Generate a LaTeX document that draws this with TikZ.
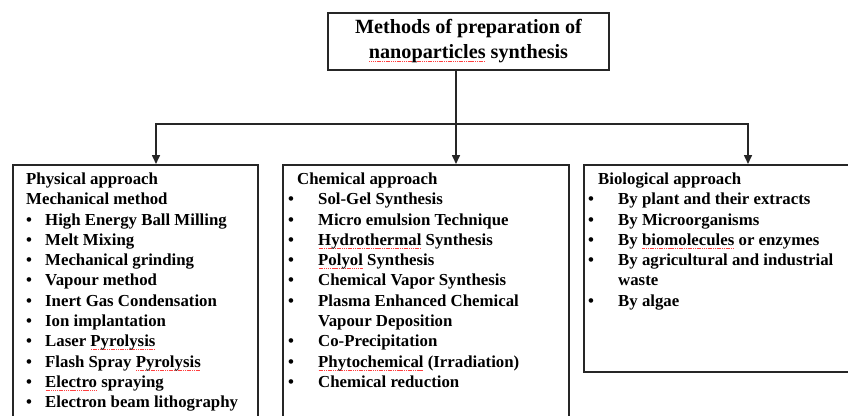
\documentclass[tikz,border=0pt]{standalone}
\usepackage{fontspec}
\setmainfont{Liberation Serif}
\usetikzlibrary{arrows.meta,positioning,calc}

\newcommand\bul[1][30pt]{\makebox[#1][l]{\textbullet}}
\newsavebox\spbox
\newcommand\spchk[1]{\sbox\spbox{#1}\rlap{\textcolor{red!75}{\hbox to \wd\spbox{\xleaders\hbox{\kern0.3pt\rule[-3pt]{1.2pt}{0.6pt}\kern0.3pt}\hfill}}}\usebox\spbox}

\begin{document}
\begin{tikzpicture}
[x=1pt,y=-1pt,
frame/.style={shape=rectangle,draw=black!85,line width=1.6pt,inner sep=0pt},
heading/.style={font=\fontsize{20.2}{25}\selectfont\bfseries,align=center},
list/.style={font=\fontsize{16.8}{20.3}\selectfont\bfseries,align=left,inner sep=0pt,anchor=north west},
myedge/.style={line width=1.6pt,draw=black!85},
myarrow/.style={myedge,-{Triangle[length=9pt,width=8pt]}}]
\useasboundingbox (0,0) rectangle (848,415);
\clip (0,0) rectangle (848,415);
%%
\node (title) [frame,heading,minimum width=281pt,minimum height=57pt] at (468.5,41.5)
  {Methods of preparation of\\ \spchk{nanoparticles} synthesis};
%%
\node (phys) [frame,anchor=north west,minimum width=245pt,minimum height=280pt] at (12,164) {};
\node (chem) [frame,anchor=north west,minimum width=286pt,minimum height=280pt] at (282,164) {};
\node (bio) [frame,anchor=north west,minimum width=290pt,minimum height=207pt] at (583,164) {};
%%
\node (physList) [list] at (26,172.6) {Physical approach\\
  Mechanical method\\
  \bul[19pt]High Energy Ball Milling\\
  \bul[19pt]Melt Mixing\\
  \bul[19pt]Mechanical grinding\\
  \bul[19pt]Vapour method\\
  \bul[19pt]Inert Gas Condensation\\
  \bul[19pt]Ion implantation\\
  \bul[19pt]Laser \spchk{Pyrolysis}\\
  \bul[19pt]Flash Spray \spchk{Pyrolysis}\\
  \bul[19pt]\spchk{Electro} spraying\\
  \bul[19pt]Electron beam lithography};
\node (chemList) [list] at (288,172.6) {\hspace*{9pt}Chemical approach\\
  \bul Sol-Gel Synthesis\\
  \bul Micro emulsion Technique\\
  \bul \spchk{Hydrothermal} Synthesis\\
  \bul \spchk{Polyol} Synthesis\\
  \bul Chemical Vapor Synthesis\\
  \bul Plasma Enhanced Chemical\\
  \hspace*{30pt}Vapour Deposition\\
  \bul Co-Precipitation\\
  \bul \spchk{Phytochemical} (Irradiation)\\
  \bul Chemical reduction};
\node (bioList) [list] at (588,172.6) {\hspace*{10pt}Biological approach\\
  \bul By plant and their extracts\\
  \bul By Microorganisms\\
  \bul By \spchk{biomolecules} or enzymes\\
  \bul By agricultural and industrial\\
  \hspace*{30pt}waste\\
  \bul By algae};
%%
\coordinate (hub) at (456,124);
\coordinate (lt) at (156,124);
\coordinate (rt) at (748,124);
\draw[myedge] (title.south -| hub) -- (hub);
\draw[myarrow] (hub) -- (lt) -- (lt |- phys.north);
\draw[myarrow] (hub) -- (rt) -- (rt |- bio.north);
\draw[myarrow] (hub) -- (hub |- chem.north);
\end{tikzpicture}
\end{document}
